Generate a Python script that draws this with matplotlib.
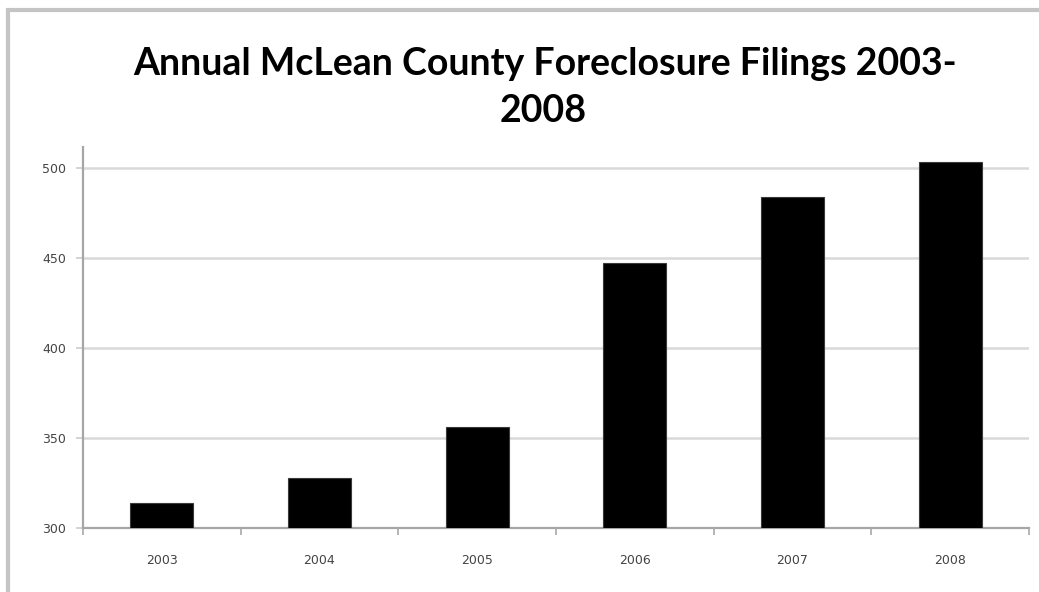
import matplotlib
matplotlib.use("Agg")
import matplotlib.pyplot as plt
from matplotlib.patches import Rectangle
import numpy as np

# Annual foreclosure filings, McLean County
years = ["2003", "2004", "2005", "2006", "2007", "2008"]
filings = [314, 328, 356, 447, 484, 503]
y_ticks = [300, 350, 400, 450, 500]

W, H = 1039, 592
fig = plt.figure(figsize=(W / 100, H / 100), dpi=100)
fig.patch.set_facecolor("white")

# light chart-area frame running off the right and bottom edges
fig.patches.append(Rectangle((8 / W, -0.2), 1.2, (H - 10) / H + 0.2,
                             transform=fig.transFigure, fill=False,
                             edgecolor="#c4c4c4", linewidth=3))

ax = fig.add_axes([83 / W, 1 - 528 / H, (1029 - 83) / W, (528 - 147) / H])
x = np.arange(len(years))
ax.bar(x, filings, width=0.4, color="black", edgecolor="#3a3a3a",
       linewidth=0.8, zorder=3)

ax.set_xlim(-0.5, len(years) - 0.5)
ax.set_ylim(300, 511.5)
ax.set_yticks(y_ticks)
ax.set_yticklabels([str(v) for v in y_ticks], fontsize=9, color="#444444")
ax.set_xticks(x)
ax.set_xticklabels(years, fontsize=9, color="#444444")
ax.set_xticks(np.arange(len(years) + 1) - 0.5, minor=True)

ax.tick_params(axis="x", which="major", length=0, pad=19)
ax.tick_params(axis="x", which="minor", length=5, width=1.3,
               color="#b0b0b0", direction="out")
ax.tick_params(axis="y", which="major", length=5, width=1.3,
               color="#d0d0d0", direction="out", pad=7)

ax.grid(axis="y", color="#d9d9d9", linewidth=1.8, zorder=0)
ax.set_axisbelow(True)
for side in ("top", "right"):
    ax.spines[side].set_visible(False)
for side in ("left", "bottom"):
    ax.spines[side].set_color("#a6a6a6")
    ax.spines[side].set_linewidth(1.6)

title_font = ["Lato", "DejaVu Sans"]
fig.text(545 / W, 1 - 64 / H, "Annual McLean County Foreclosure Filings 2003-",
         ha="center", va="center", fontsize=27, fontweight="bold",
         family=title_font)
fig.text(543 / W, 1 - 111 / H, "2008", ha="center", va="center",
         fontsize=27, fontweight="bold", family=title_font)

fig.savefig("out.png", dpi=100, facecolor="white")
